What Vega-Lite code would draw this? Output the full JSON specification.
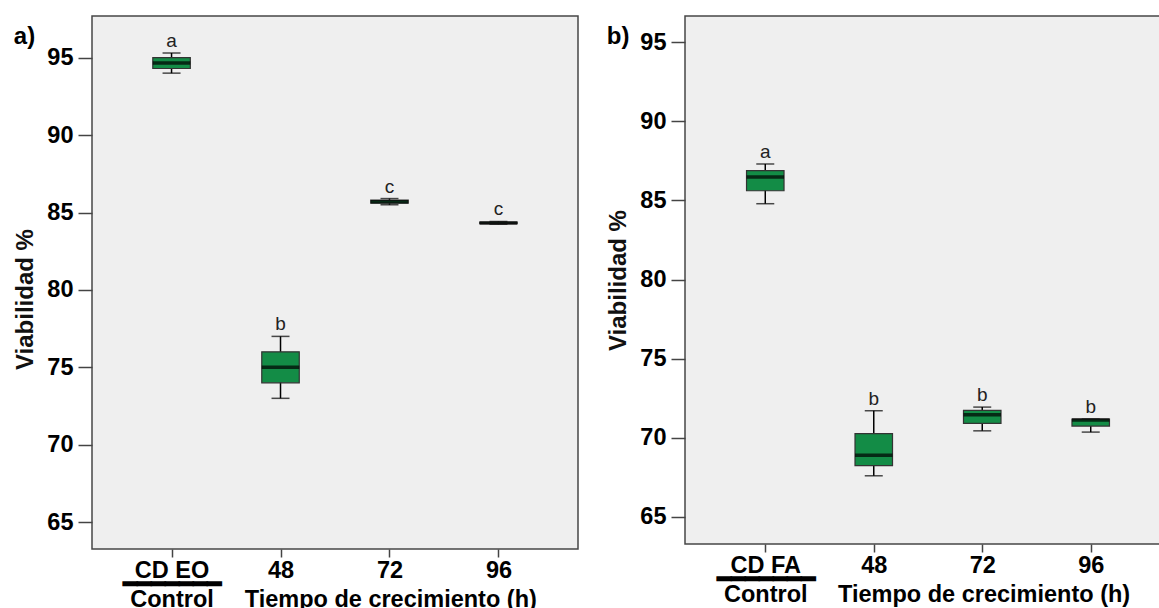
{
  "$schema": "https://vega.github.io/schema/vega-lite/v6.json",
  "padding": {"left": 13, "top": 15, "right": 0, "bottom": 0},
  "spacing": 27,
  "datasets": {
    "box": [
      {"p": "a", "g": "CD EO", "lo": 94.0, "q1": 94.3, "med": 94.65, "q3": 95.0, "hi": 95.3, "lab": "a"},
      {"p": "a", "g": "48", "lo": 73.0, "q1": 74.0, "med": 75.0, "q3": 76.0, "hi": 77.0, "lab": "b"},
      {"p": "a", "g": "72", "lo": 85.5, "q1": 85.6, "med": 85.7, "q3": 85.8, "hi": 85.9, "lab": "c"},
      {"p": "a", "g": "96", "lo": 84.25, "q1": 84.28, "med": 84.33, "q3": 84.38, "hi": 84.42, "lab": "c"},
      {"p": "b", "g": "CD FA", "lo": 84.79, "q1": 85.61, "med": 86.48, "q3": 86.88, "hi": 87.3, "lab": "a"},
      {"p": "b", "g": "48", "lo": 67.6, "q1": 68.24, "med": 68.9, "q3": 70.27, "hi": 71.71, "lab": "b"},
      {"p": "b", "g": "72", "lo": 70.44, "q1": 70.91, "med": 71.46, "q3": 71.73, "hi": 71.94, "lab": "b"},
      {"p": "b", "g": "96", "lo": 70.36, "q1": 70.74, "med": 71.12, "q3": 71.18, "hi": 71.18, "lab": "b"}
    ]
  },
  "config": {
    "font": "Liberation Sans",
    "view": {"fill": "#efefef", "stroke": "#474747", "strokeWidth": 1.5},
    "title": {"fontSize": 24, "fontWeight": "bold", "font": "Liberation Sans", "color": "#000", "anchor": "start", "frame": "bounds", "offset": 0, "baseline": "alphabetic", "dy": 37},
    "axisY": {"grid": false, "domain": false, "tickSize": 14, "tickColor": "#444", "tickWidth": 1.5, "labelFontSize": 23.5, "labelFontWeight": "bold", "labelColor": "#000", "labelPadding": 5, "titleFontSize": 24, "titleFontWeight": "bold", "titleColor": "#111", "titlePadding": 9},
    "axisX": {"domain": false, "tickSize": 8, "tickColor": "#444", "tickWidth": 1.5, "labelAngle": 0, "labelFontSize": 23.5, "labelFontWeight": "bold", "labelColor": "#000", "labelPadding": 1, "labelLineHeight": 14.5, "labelLimit": 0, "titleFontSize": 23.5, "titleFontWeight": "bold", "titleColor": "#000", "titleAlign": "center", "titleBaseline": "alphabetic", "titleY": 57}
  },
  "hconcat": [
    {
      "title": {"text": "a)"},
      "width": 486,
      "height": 533,
      "data": {"name": "box"},
      "transform": [{"filter": "datum.p === 'a'"}],
      "encoding": {
        "x": {"field": "g", "type": "nominal", "sort": ["CD EO", "48", "72", "96"], "scale": {"type": "point", "padding": 0.73}, "title": "Tiempo de crecimiento (h)",
          "axis": {"titleX": 298.3, "labelExpr": "datum.value === 'CD EO' ? ['CD EO', '━━━━━━━', 'Control'] : datum.value"}}
      },
      "layer": [
        {"mark": {"type": "rule", "color": "#000", "strokeWidth": 1.5},
          "encoding": {"y": {"field": "lo", "type": "quantitative", "title": "Viabilidad %", "axis": {"values": [65, 70, 75, 80, 85, 90, 95], "titleY": 283}, "scale": {"domain": [63.27, 97.69], "nice": false, "zero": false}}, "y2": {"field": "hi"}}},
        {"mark": {"type": "tick", "color": "#000", "size": 18, "thickness": 1.5},
          "encoding": {"y": {"field": "lo", "type": "quantitative", "title": "Viabilidad %"}}},
        {"mark": {"type": "tick", "color": "#000", "size": 18, "thickness": 1.5},
          "encoding": {"y": {"field": "hi", "type": "quantitative", "title": "Viabilidad %"}}},
        {"mark": {"type": "bar", "size": 37.5, "fill": "#138c46", "stroke": "#333", "strokeWidth": 1.2},
          "encoding": {"y": {"field": "q1", "type": "quantitative", "title": "Viabilidad %"}, "y2": {"field": "q3"}}},
        {"mark": {"type": "tick", "color": "#000", "size": 37.5, "thickness": 3.5},
          "encoding": {"y": {"field": "med", "type": "quantitative", "title": "Viabilidad %"}}},
        {"mark": {"type": "text", "fontSize": 19, "font": "Liberation Sans", "color": "#222", "baseline": "alphabetic", "dy": -6},
          "encoding": {"y": {"field": "hi", "type": "quantitative", "title": "Viabilidad %"}, "text": {"field": "lab"}}}
      ]
    },
    {
      "title": {"text": "b)"},
      "width": 486,
      "height": 528,
      "data": {"name": "box"},
      "transform": [{"filter": "datum.p === 'b'"}],
      "encoding": {
        "x": {"field": "g", "type": "nominal", "sort": ["CD FA", "48", "72", "96"], "scale": {"type": "point", "padding": 0.74}, "title": "Tiempo de crecimiento (h)",
          "axis": {"titleX": 298.6, "labelExpr": "datum.value === 'CD FA' ? ['CD FA', '━━━━━━━', 'Control'] : datum.value"}}
      },
      "layer": [
        {"mark": {"type": "rule", "color": "#000", "strokeWidth": 1.5},
          "encoding": {"y": {"field": "lo", "type": "quantitative", "title": "Viabilidad %", "axis": {"values": [65, 70, 75, 80, 85, 90, 95]}, "scale": {"domain": [63.29, 96.65], "nice": false, "zero": false}}, "y2": {"field": "hi"}}},
        {"mark": {"type": "tick", "color": "#000", "size": 18, "thickness": 1.5},
          "encoding": {"y": {"field": "lo", "type": "quantitative", "title": "Viabilidad %"}}},
        {"mark": {"type": "tick", "color": "#000", "size": 18, "thickness": 1.5},
          "encoding": {"y": {"field": "hi", "type": "quantitative", "title": "Viabilidad %"}}},
        {"mark": {"type": "bar", "size": 37.5, "fill": "#138c46", "stroke": "#333", "strokeWidth": 1.2},
          "encoding": {"y": {"field": "q1", "type": "quantitative", "title": "Viabilidad %"}, "y2": {"field": "q3"}}},
        {"mark": {"type": "tick", "color": "#000", "size": 37.5, "thickness": 3.5},
          "encoding": {"y": {"field": "med", "type": "quantitative", "title": "Viabilidad %"}}},
        {"mark": {"type": "text", "fontSize": 19, "font": "Liberation Sans", "color": "#222", "baseline": "alphabetic", "dy": -6},
          "encoding": {"y": {"field": "hi", "type": "quantitative", "title": "Viabilidad %"}, "text": {"field": "lab"}}}
      ]
    }
  ]
}
